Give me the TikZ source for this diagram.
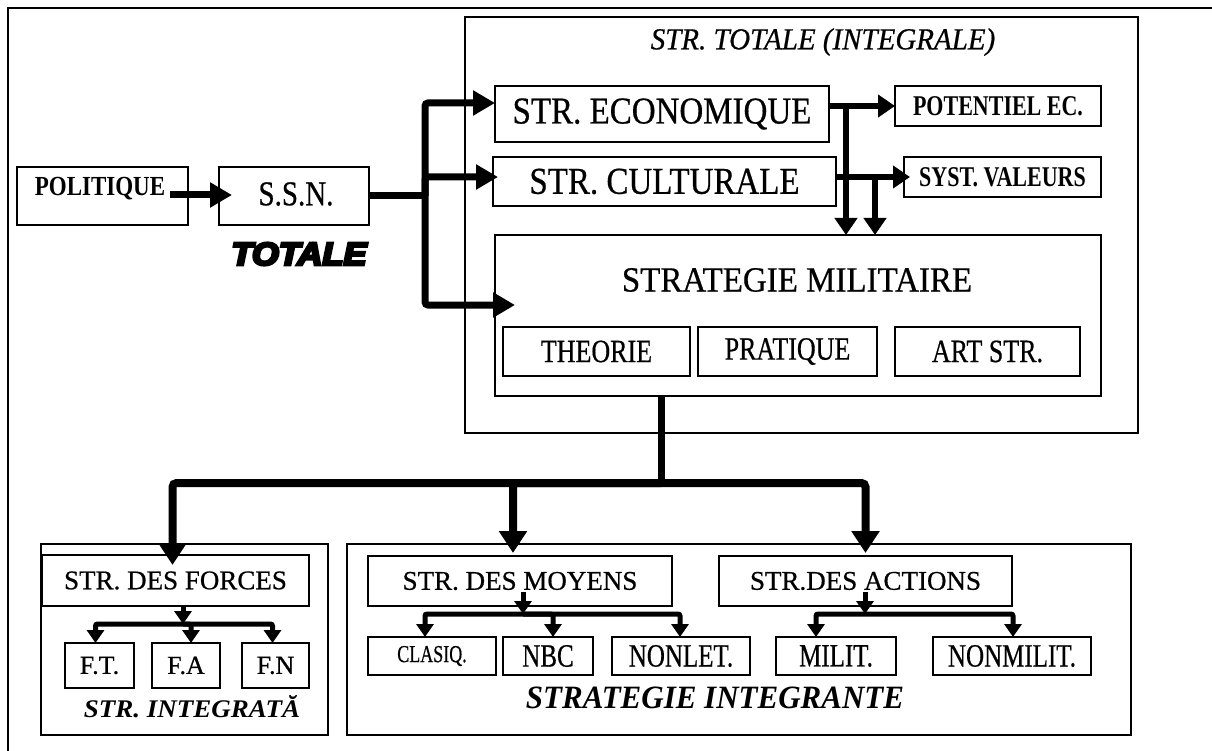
\documentclass[tikz,border=0pt]{standalone}
\usepackage{graphicx}
\usepackage{fontspec}
\setmainfont{Liberation Serif}[UprightFeatures={FakeBold=0.6},ItalicFeatures={FakeBold=0.6}]
\newfontfamily\sansheavy{Liberation Sans}[BoldItalicFeatures={FakeBold=8}]
\newcommand\vstretch[2]{\scalebox{1}[#1]{#2}}
\usetikzlibrary{arrows.meta}
\begin{document}
\begin{tikzpicture}[x=1pt,y=-1pt,
 box/.style={draw, line width=1.5pt, inner sep=0pt, outer sep=0pt},
 fs/.style={font=\fontsize{#1}{#1}\selectfont},
 fb/.style={font=\bfseries\fontsize{#1}{#1}\selectfont},
 thk/.style={line width=7pt, rounded corners=3pt},
 arr/.style={line width=7pt, rounded corners=3pt, -{Triangle[length=22pt,width=24pt]}},
 marr/.style={line width=6pt, -{Triangle[length=17pt,width=22pt]}},
 barr/.style={line width=8pt, rounded corners=4pt, -{Triangle[length=22pt,width=27pt]}},
 sarr/.style={line width=5pt, rounded corners=2pt, -{Triangle[length=13pt,width=17pt]}},
]
\useasboundingbox (0,0) rectangle (1212,751);
\fill[white] (0,0) rectangle (1212,751);
% outer frame (partly outside)
\draw[line width=1.6pt] (1212,8) -- (8,8) -- (8,751);

% left part
\node[box, minimum width=171pt, minimum height=58pt] (pol) at (102.5,196) {};
\node[fb=23] (polt) at (100,189) {\vstretch{1.2}{POLITIQUE}};
\node[box, minimum width=150pt, minimum height=58pt] (ssn) at (294,196) {};
\node[fs=29] (ssnt) at (296,194) {\vstretch{1.2}{S.S.N.}};
\node[font=\sansheavy\bfseries\itshape\fontsize{32}{32}\selectfont] (tot) at (299,254) {\scalebox{1.08}[1]{TOTALE}};

% total strategy container
\node[box, minimum width=673pt, minimum height=416pt] (total) at (801.5,225) {};
\node[font=\itshape\fontsize{29}{29}\selectfont] (totalt) at (823,42) {\vstretch{1.05}{STR. TOTALE (INTEGRALE)}};

\node[box, minimum width=334pt, minimum height=56pt, fs=33] (econ) at (662,114) {\vstretch{1.15}{STR. ECONOMIQUE}};
\node[box, minimum width=206pt, minimum height=40pt, fb=22] (pot) at (998,106) {\vstretch{1.3}{POTENTIEL EC.}};
\node[box, minimum width=343pt, minimum height=49pt, fs=33] (cult) at (664.5,181.5) {\vstretch{1.15}{STR. CULTURALE}};
\node[box, minimum width=197pt, minimum height=40pt, fb=22] (syst) at (1002.5,177) {\vstretch{1.3}{SYST. VALEURS}};

\node[box, minimum width=606pt, minimum height=161pt] (mil) at (798,315.5) {};
\node[fs=33] (milt) at (797,280) {\vstretch{1.07}{STRATEGIE MILITAIRE}};
\node[box, minimum width=187pt, minimum height=49pt, fs=26] (theo) at (596.5,351.5) {\vstretch{1.25}{THEORIE}};
\node[box, minimum width=179pt, minimum height=49pt, fs=26] (prat) at (787.5,351.5) {\vstretch{1.25}{PRATIQUE}};
\node[box, minimum width=185pt, minimum height=49pt, fs=26] (art) at (987.5,351.5) {\vstretch{1.25}{ART STR.}};

% bottom left container
\node[box, minimum width=287pt, minimum height=191pt] (leftc) at (184.5,639.5) {};
\node[box, minimum width=267pt, minimum height=51pt, fs=27] (forces) at (175.5,580.5) {STR. DES FORCES};
\node[box, minimum width=69pt, minimum height=45pt, fs=26] (ft) at (99.5,665.5) {F.T.};
\node[box, minimum width=68pt, minimum height=45pt, fs=26] (fa) at (186,665.5) {F.A};
\node[box, minimum width=67pt, minimum height=45pt, fs=26] (fn) at (275.5,665.5) {F.N};
\node[font=\bfseries\itshape\fontsize{27}{27}\selectfont] (integ) at (192,707) {\vstretch{0.94}{STR. INTEGRATĂ}};

% bottom middle container
\node[box, minimum width=784pt, minimum height=191pt] (midc) at (739,639.5) {};
\node[box, minimum width=304pt, minimum height=50pt, fs=27] (moy) at (520,581) {STR. DES MOYENS};
\node[box, minimum width=293pt, minimum height=50pt, fs=27] (act) at (865.5,581) {STR.DES ACTIONS};
\node[box, minimum width=128pt, minimum height=38pt, fs=18] (clas) at (432,656) {\vstretch{1.35}{CLASIQ.}};
\node[box, minimum width=90pt, minimum height=38pt, fs=25] (nbc) at (548,656) {\vstretch{1.3}{NBC}};
\node[box, minimum width=138pt, minimum height=38pt, fs=25] (nonlet) at (681,656) {\vstretch{1.3}{NONLET.}};
\node[box, minimum width=120pt, minimum height=38pt, fs=25] (milit) at (836,656) {\vstretch{1.3}{MILIT.}};
\node[box, minimum width=158pt, minimum height=38pt, fs=25] (nonmil) at (1012,656) {\vstretch{1.3}{NONMILIT.}};
\node[font=\bfseries\itshape\fontsize{31}{31}\selectfont] (integr) at (715,698) {\vstretch{1.05}{STRATEGIE INTEGRANTE}};

% connectors: top
\draw[arr] ([xshift=-18pt,yshift=1pt]pol.east) -- ([xshift=13pt,yshift=1pt]ssn.west);
\coordinate (tr) at (425,196);
\draw[thk] (ssn.east) -- (tr);
\draw[arr] (tr) |- ([yshift=11pt]econ.west);
\draw[arr] (tr) |- ([yshift=4.5pt,xshift=5pt]cult.west);
\draw[arr] (tr) |- ([yshift=10.5pt,xshift=20pt]mil.west);

\draw[marr] (econ.east |- pot.west) -- (pot.west);
\draw[marr] (cult.east |- syst.west) -- ([xshift=6pt]syst.west);
\coordinate (v1) at (846,106);
\coordinate (v2) at (875,177);
\draw[marr] (v1) -- (v1 |- mil.north);
\draw[marr] (v2) -- (v2 |- mil.north);

% connectors: bottom
\coordinate (mb) at (661,483);
\draw[thk] (mb |- mil.south) -- (mb);
\draw[barr] (mb) -| ([xshift=-3pt,yshift=-10pt]forces.north);
\draw[barr] (mb) -| ([xshift=-7pt,yshift=3pt]moy.north);
\draw[barr] (mb) -| ([yshift=3pt]act.north);

\coordinate (fb) at (183,624);
\draw[sarr] (fb |- forces.south) -- (fb);
\draw[sarr] (fb) -| ([xshift=-4pt]ft.north);
\draw[sarr] (fb) -| ([xshift=5pt]fa.north);
\draw[sarr] (fb) -| ([xshift=-3pt]fn.north);

\coordinate (ms) at (523,592);
\coordinate (mbar) at (523,614);
\draw[sarr] (ms) -- (mbar);
\draw[sarr] (mbar) -| ([xshift=-7pt]clas.north);
\draw[sarr] (mbar) -| ([xshift=5pt]nbc.north);
\draw[sarr] (mbar) -| ([xshift=-1pt]nonlet.north);

\coordinate (as) at (865,592);
\draw[sarr] (as) -- (as |- mbar);
\coordinate (abar) at (865,614);
\draw[sarr] (abar) -| ([xshift=-20pt]milit.north);
\draw[sarr] (abar) -| ([xshift=1pt]nonmil.north);
\end{tikzpicture}
\end{document}
